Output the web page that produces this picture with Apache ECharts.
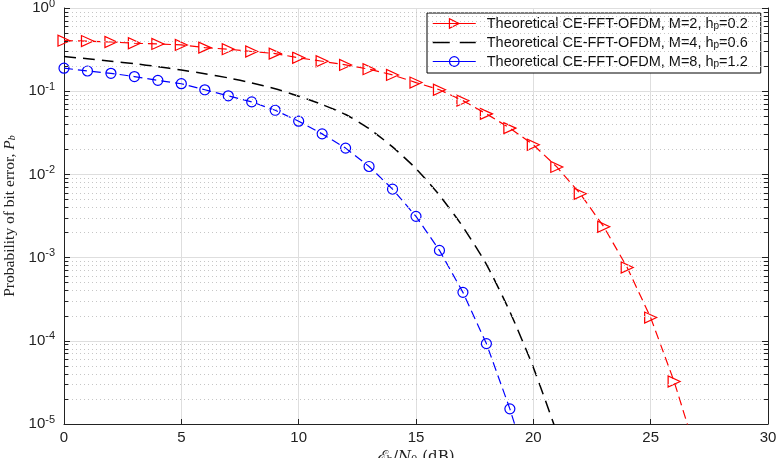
<!DOCTYPE html>
<html>
<head>
<meta charset="utf-8">
<script src="https://cdn.jsdelivr.net/npm/echarts@6/dist/echarts.min.js"></script>
<style>
html,body{margin:0;padding:0;background:#fff}
#main{width:778px;height:458px}
</style>
</head>
<body>
<div id="main"></div>
<script>
// Eb/N0 (dB)
var snrM2 = [0,1,2,3,4,5,6,7,8,9,10,11,12,13,14,15,16,17,18,19,20,21,22,23,24,25,26,27];
var snrM4 = [0,1,2,3,4,5,6,7,8,9,10,11,12,13,14,15,16,17,18,19,20,21];
var snrM8 = [0,1,2,3,4,5,6,7,8,9,10,11,12,13,14,15,16,17,18,19,20];

// bit error probability
var berM2 = [0.405,0.400,0.390,0.377,0.370,0.360,0.334,0.320,0.300,0.283,0.252,0.229,0.207,0.184,0.157,0.127,0.104,0.077,0.0534,0.036,0.0227,0.0123,0.00585,0.00235,7.6e-4,1.9e-4,3.24e-5,4e-6];
var berM4 = [0.2606,0.2455,0.2291,0.2138,0.1972,0.1799,0.1622,0.1445,0.1259,0.1072,0.0871,0.0692,0.0525,0.0355,0.0214,0.01175,0.00562,0.00234,8.3e-4,2.24e-4,4.79e-5,7.9e-6];
var berM8 = [0.189,0.175,0.164,0.150,0.135,0.123,0.104,0.088,0.0744,0.059,0.0436,0.0307,0.0207,0.01245,0.00665,0.00313,0.00122,3.82e-4,9.25e-5,1.52e-5,1.9e-6];

var names = [
    'Theoretical CE-FFT-OFDM, M=2, h{sub|p}=0.2',
    'Theoretical CE-FFT-OFDM, M=4, h{sub|p}=0.6',
    'Theoretical CE-FFT-OFDM, M=8, h{sub|p}=1.2'
];

function pairs(xs, ys) {
    return xs.map(function (x, i) { return [x, ys[i]]; });
}

// minor grid / minor ticks of the log axis (2..9 x 10^n)
var minorVals = [];
for (var n = -5; n <= -1; n++) {
    for (var k = 2; k <= 9; k++) minorVals.push(k * Math.pow(10, n));
}
var minorLines = [];
minorVals.forEach(function (v) {
    minorLines.push({yAxis: v, lineStyle: {color: '#c6c6c6', type: [1, 3], width: 1}});
    minorLines.push([{coord: [0, v]}, {coord: [0.18, v]}]);        //左侧小刻度
    minorLines.push([{coord: [29.82, v]}, {coord: [30, v]}]);      //右侧小刻度
});

var mchart = echarts.init(document.getElementById('main'));
var labelRich = {
    b: {fontSize: 15, fontFamily: 'Liberation Sans', color: '#222', lineHeight: 20},
    s: {fontSize: 11, fontFamily: 'Liberation Sans', color: '#222', lineHeight: 11, verticalAlign: 'top'}
};
var option = {
    animation: false,
    backgroundColor: '#fff',
    grid: {left: 64, right: 10, top: 8, bottom: 34, outerBoundsMode: 'none'},
    legend: {
        orient: 'vertical',
        left: 427,
        top: 13,
        data: [
            {name: names[0], itemStyle: {color: 'rgba(0,0,0,0)', borderColor: '#ff0000', borderWidth: 1.2}, lineStyle: {color: '#ff0000', type: 'solid', width: 1.2}},
            {name: names[1], itemStyle: {color: 'rgba(0,0,0,0)', borderColor: 'rgba(0,0,0,0)', borderWidth: 0}, lineStyle: {color: '#000', type: [17, 10], width: 1.5}},
            {name: names[2], itemStyle: {color: 'rgba(0,0,0,0)', borderColor: '#0000ff', borderWidth: 1.2}, lineStyle: {color: '#0000ff', type: 'solid', width: 1.2}}
        ],
        itemWidth: 43,
        itemHeight: 12,
        itemGap: 4,
        padding: [3, 13, 4, 5],
        backgroundColor: '#fff',
        borderColor: '#000',
        borderWidth: 1,
        borderRadius: 0,
        textStyle: {
            fontFamily: 'Liberation Sans',
            fontSize: 14.5,
            color: '#111',
            padding: [0, 0, 0, 6],
            rich: {
                sub: {fontSize: 10, fontFamily: 'Liberation Sans', verticalAlign: 'bottom', lineHeight: 8, color: '#111'}
            }
        }
    },
    xAxis: {
        type: 'value',
        min: 0,
        max: 30,
        interval: 5,
        name: '{e|ℰ}{sub|b}{n|/}{i|N}{sub|0}{n| (dB)}',
        nameLocation: 'middle',
        nameGap: 15,
        nameTextStyle: {
            fontFamily: 'DejaVu Serif',
            fontSize: 15,
            color: '#222',
            rich: {
                e: {fontFamily: 'DejaVu Serif', fontSize: 15, fontStyle: 'italic', color: '#222'},
                i: {fontFamily: 'DejaVu Serif', fontSize: 15, fontStyle: 'italic', color: '#222'},
                n: {fontFamily: 'DejaVu Serif', fontSize: 15, color: '#222'},
                sub: {fontFamily: 'DejaVu Serif', fontSize: 10, verticalAlign: 'bottom', lineHeight: 8, color: '#222'}
            }
        },
        axisLine: {lineStyle: {color: '#222', width: 1}},
        axisTick: {inside: true, length: 5, lineStyle: {color: '#222'}},
        axisLabel: {fontFamily: 'Liberation Sans', fontSize: 15, color: '#222', margin: 6},
        splitLine: {show: true, lineStyle: {color: '#dedede', width: 1}}
    },
    yAxis: [{
        type: 'log',
        min: 1e-5,
        max: 1,
        logBase: 10,
        name: 'Probability of bit error, {i|P}{sub|b}',
        nameLocation: 'middle',
        nameGap: 42,
        nameTextStyle: {
            fontFamily: 'Liberation Serif',
            fontSize: 15.5,
            color: '#222',
            rich: {
                i: {fontFamily: 'Liberation Serif', fontSize: 15.5, fontStyle: 'italic', color: '#222'},
                sub: {fontFamily: 'Liberation Serif', fontSize: 10, fontStyle: 'italic', verticalAlign: 'bottom', lineHeight: 10, color: '#222'}
            }
        },
        axisLine: {show: true, lineStyle: {color: '#222', width: 1}},
        axisTick: {inside: true, length: 6, lineStyle: {color: '#222'}},
        axisLabel: {
            margin: 9,
            formatter: function (v) {
                var e = Math.round(Math.log10(v));
                return '{b|10}{s|' + e + '}';
            },
            rich: labelRich
        },
        splitLine: {show: true, lineStyle: {color: '#dedede', width: 1}}
    }, {
        type: 'log',
        min: 1e-5,
        max: 1,
        logBase: 10,
        position: 'right',
        axisLine: {show: true, lineStyle: {color: '#222', width: 1}},
        axisTick: {inside: true, length: 6, lineStyle: {color: '#222'}},
        axisLabel: {show: false},
        splitLine: {show: false}
    }],
    series: [
        {
            name: 'grid',
            type: 'line',
            z: 1,
            silent: true,
            symbol: 'none',
            data: [[0, 1e-5]],
            lineStyle: {width: 0},
            markLine: {
                silent: true,
                symbol: 'none',
                precision: 10,
                animation: false,
                label: {show: false},
                lineStyle: {color: '#222', type: 'solid', width: 1},
                emphasis: {disabled: true},
                data: minorLines
            }
        },
        {
            name: names[0],
            type: 'line',
            z: 3,
            data: pairs(snrM2, berM2),
            symbol: 'triangle',
            symbolSize: [11, 12],
            symbolRotate: -90,
            lineStyle: {color: '#ff0000', width: 1.2, type: [9, 5]},
            itemStyle: {color: 'rgba(0,0,0,0)', borderColor: '#ff0000', borderWidth: 1.2}
        },
        {
            name: names[1],
            type: 'line',
            z: 3,
            data: pairs(snrM4, berM4),
            symbol: 'none',
            smooth: 0.2,
            lineStyle: {color: '#000', width: 1.5, type: [12, 7]},
            itemStyle: {color: '#000'}
        },
        {
            name: names[2],
            type: 'line',
            z: 3,
            data: pairs(snrM8, berM8),
            symbol: 'circle',
            symbolSize: 10,
            lineStyle: {color: '#0000ff', width: 1.2, type: [9, 5]},
            itemStyle: {color: 'rgba(0,0,0,0)', borderColor: '#0000ff', borderWidth: 1.2}
        }
    ]
};
mchart.setOption(option);
</script>
</body>
</html>
